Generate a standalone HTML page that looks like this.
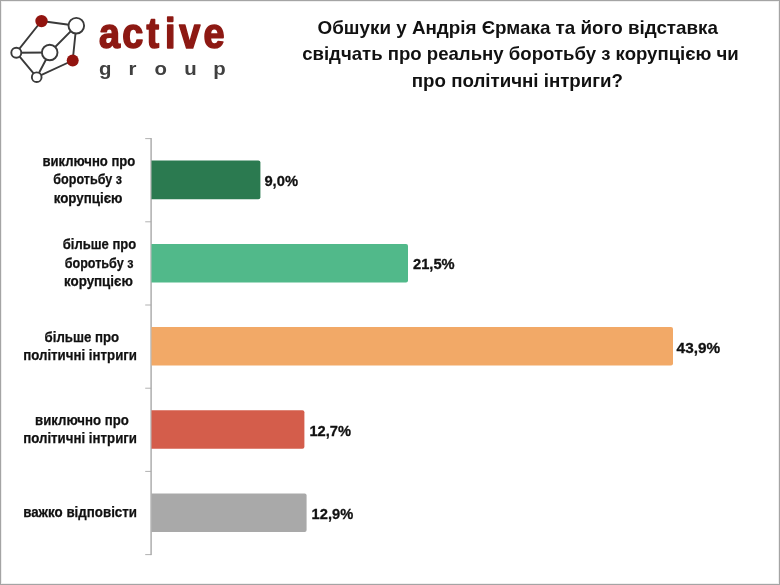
<!DOCTYPE html>
<html lang="uk">
<head>
<meta charset="utf-8">
<title>Active Group</title>
<style>
html,body{margin:0;padding:0;background:#fff;}
body{width:780px;height:585px;overflow:hidden;position:relative;font-family:"Liberation Sans",sans-serif;}
svg{position:absolute;left:0;top:0;display:block;}
.soft{filter:blur(0.3px);}
text{font-family:"Liberation Sans",sans-serif;font-weight:bold;}
.t{font-size:19px;fill:#111;}
.c{font-size:13.8px;fill:#111;stroke:#111;stroke-width:0.25px;}
.d{font-size:15.2px;fill:#111;stroke:#111;stroke-width:0.3px;}
</style>
</head>
<body>
<svg width="780" height="585" viewBox="0 0 780 585">
<rect x="0" y="0" width="780" height="585" fill="#fff"/>
<!-- frame -->
<rect x="1.5" y="1.5" width="777" height="582" fill="none" stroke="#efefef" stroke-width="1"/>
<rect x="0.5" y="0.5" width="779" height="584" fill="none" stroke="#a4a4a4" stroke-width="1"/>

<g class="soft">
<!-- logo graphic -->
<g stroke="#3a3a3a" stroke-width="1.9" fill="none" stroke-linecap="round">
<line x1="41.4" y1="21" x2="76.3" y2="25.7"/>
<line x1="41.4" y1="21" x2="16.3" y2="52.7"/>
<line x1="76.3" y1="25.7" x2="49.7" y2="52.5"/>
<line x1="76.3" y1="25.7" x2="72.7" y2="60.5"/>
<line x1="16.3" y1="52.7" x2="49.7" y2="52.5"/>
<line x1="16.3" y1="52.7" x2="36.7" y2="77.2"/>
<line x1="49.7" y1="52.5" x2="36.7" y2="77.2"/>
<line x1="36.7" y1="77.2" x2="72.7" y2="60.5"/>
</g>
<g stroke="#3a3a3a" stroke-width="1.9" fill="#fff">
<circle cx="76.3" cy="25.7" r="7.8"/>
<circle cx="49.7" cy="52.5" r="7.8"/>
<circle cx="16.3" cy="52.7" r="5"/>
<circle cx="36.7" cy="77.2" r="4.85"/>
</g>
<circle cx="41.5" cy="21.1" r="6.2" fill="#92140f"/>
<circle cx="72.7" cy="60.6" r="6" fill="#92140f"/>

<!-- logo text -->
<g transform="translate(0,48.3) scale(0.90,1)"><text x="109.9 135.8 162.8 183.3 199.1 226.2" y="0" style="font-size:42px;fill:#8d1913;stroke:#8d1913;stroke-width:1.6px;stroke-linejoin:round">active</text></g>
<g transform="translate(0,74.5) scale(1.12,1)"><text x="88.4 114.8 138.0 164.5 190.4" y="0" style="font-size:18.2px;fill:#404040">group</text></g>

<!-- title -->
<text class="t" x="317.6" y="34" textLength="400.4" lengthAdjust="spacingAndGlyphs">Обшуки у Андрія Єрмака та його відставка</text>
<text class="t" x="302.2" y="60" textLength="436.6" lengthAdjust="spacingAndGlyphs">свідчать про реальну боротьбу з корупцією чи</text>
<text class="t" x="411.8" y="86.8" textLength="211.2" lengthAdjust="spacingAndGlyphs">про політичні інтриги?</text>

<!-- axis -->
<g fill="#b2b2b2">
<rect x="145.2" y="138.1" width="6" height="1"/>
<rect x="145.2" y="221.3" width="6" height="1"/>
<rect x="145.2" y="304.5" width="6" height="1"/>
<rect x="145.2" y="387.7" width="6" height="1"/>
<rect x="145.2" y="470.9" width="6" height="1"/>
<rect x="145.2" y="554.1" width="6" height="1"/>
</g>
<rect x="150.4" y="138.1" width="1.4" height="417" fill="#a8a8a8"/>

<!-- bars -->
<path d="M151.5 160.6H258.4a2 2 0 0 1 2 2V197.2a2 2 0 0 1 -2 2H151.5Z" fill="#2b7a50"/>
<path d="M151.5 243.9H406a2 2 0 0 1 2 2V280.4a2 2 0 0 1 -2 2H151.5Z" fill="#51b98a"/>
<path d="M151.5 327.1H671a2 2 0 0 1 2 2V363.6a2 2 0 0 1 -2 2H151.5Z" fill="#f2a967"/>
<path d="M151.5 410.3H302.4a2 2 0 0 1 2 2V446.8a2 2 0 0 1 -2 2H151.5Z" fill="#d45d4b"/>
<path d="M151.5 493.6H304.6a2 2 0 0 1 2 2V530.1a2 2 0 0 1 -2 2H151.5Z" fill="#a9a9a9"/>

<!-- data labels -->
<text class="d" x="264.4" y="186" textLength="33.6" lengthAdjust="spacingAndGlyphs">9,0%</text>
<text class="d" x="413" y="269.3" textLength="41.6" lengthAdjust="spacingAndGlyphs">21,5%</text>
<text class="d" x="676.6" y="352.5" textLength="43.6" lengthAdjust="spacingAndGlyphs">43,9%</text>
<text class="d" x="309.4" y="435.8" textLength="41.6" lengthAdjust="spacingAndGlyphs">12,7%</text>
<text class="d" x="311.6" y="519" textLength="41.6" lengthAdjust="spacingAndGlyphs">12,9%</text>

<!-- category labels -->
<text class="c" x="42.5" y="165.8" textLength="92.8" lengthAdjust="spacingAndGlyphs">виключно про</text>
<text class="c" x="53.3" y="184.4" textLength="68.7" lengthAdjust="spacingAndGlyphs">боротьбу з</text>
<text class="c" x="53.7" y="202.8" textLength="68.8" lengthAdjust="spacingAndGlyphs">корупцією</text>

<text class="c" x="62.8" y="249" textLength="73.4" lengthAdjust="spacingAndGlyphs">більше про</text>
<text class="c" x="64.7" y="267.7" textLength="68.7" lengthAdjust="spacingAndGlyphs">боротьбу з</text>
<text class="c" x="64" y="286.1" textLength="68.8" lengthAdjust="spacingAndGlyphs">корупцією</text>

<text class="c" x="44.6" y="341.8" textLength="74.5" lengthAdjust="spacingAndGlyphs">більше про</text>
<text class="c" x="23.2" y="359.9" textLength="113.8" lengthAdjust="spacingAndGlyphs">політичні інтриги</text>

<text class="c" x="35.1" y="424.6" textLength="93.7" lengthAdjust="spacingAndGlyphs">виключно про</text>
<text class="c" x="23.2" y="443.2" textLength="113.8" lengthAdjust="spacingAndGlyphs">політичні інтриги</text>

<text class="c" x="23.2" y="517.4" textLength="113.8" lengthAdjust="spacingAndGlyphs">важко відповісти</text>
</g>
</svg>
</body>
</html>
